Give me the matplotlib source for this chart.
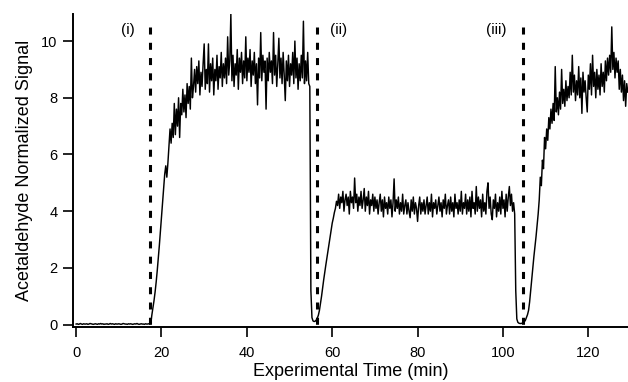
import numpy as np
import matplotlib
matplotlib.use("Agg")
from matplotlib import pyplot as plt

plt.rcParams['font.family'] = ['Liberation Sans', 'DejaVu Sans']

# signal, segment by segment (value lists + first/last time in min)
baseline = [0.02, 0.03, 0.01, 0.02, 0.04, 0.02, 0.01, 0.03, 0.02, 0.02, 0.03, 0.01, 0.02, 0.04,
            0.03, 0.02, 0.01, 0.02, 0.03, 0.02, 0.01, 0.03, 0.02, 0.04, 0.02, 0.03, 0.01, 0.02,
            0.02, 0.03, 0.01, 0.02, 0.04, 0.02, 0.03, 0.02, 0.01, 0.03, 0.02, 0.02, 0.03, 0.02,
            0.01, 0.02, 0.04, 0.03, 0.02, 0.02, 0.01, 0.03, 0.02, 0.03, 0.02, 0.01, 0.02, 0.03,
            0.02, 0.04, 0.02, 0.01, 0.02, 0.03, 0.02, 0.02, 0.01, 0.03, 0.02, 0.02, 0.03, 0.02]
baseline_t = (0.0, 17.25)

rise_i = [0.05, 0.35, 0.6, 0.85, 1.15, 1.5, 1.9, 2.35, 2.8, 3.3, 3.8, 4.25, 4.75, 5.3, 5.6, 5.2,
          5.7, 6.3, 6.9, 6.4, 7.1, 6.6, 7.8, 6.7, 7.6, 7.0, 8.0, 6.6, 7.8, 7.4, 8.3, 7.5, 8.1,
          7.3, 8.5, 7.8, 8.4, 7.6, 9.4, 8.0]
rise_i_t = (17.5, 27.25)

plateau_i = [8.4, 9.0, 8.2, 9.1, 8.5, 9.3, 8.1, 8.9, 8.4, 9.2, 9.9, 8.3, 9.0, 8.5, 9.9, 8.2,
             9.2, 8.6, 9.4, 8.1, 9.0, 8.6, 9.5, 8.3, 9.1, 8.7, 9.6, 8.4, 9.2, 8.7, 9.4, 8.5,
             10.15, 8.8, 9.3, 10.95, 8.6, 9.5, 8.4, 9.2, 8.8, 9.7, 8.3, 9.4, 8.9, 9.6, 8.5, 9.3,
             8.7, 10.15, 8.6, 9.4, 8.9, 9.7, 8.4, 9.3, 8.8, 9.6, 8.5, 9.2, 7.75, 9.4, 8.7, 10.3,
             8.6, 9.5, 8.9, 9.3, 7.6, 9.4, 8.6, 9.6, 8.9, 9.3, 8.5, 10.3, 8.8, 9.5, 8.4, 9.2,
             10.1, 8.7, 9.4, 8.5, 9.6, 8.8, 7.9, 9.3, 8.6, 9.5, 8.4, 9.2, 8.8, 9.6, 8.5, 10.0,
             8.7, 9.4, 8.3, 9.2, 8.6, 9.5, 8.7, 10.7, 8.5, 9.3, 8.6, 9.6, 8.5, 8.4]
plateau_i_t = (27.5, 54.75)

dip_ii = [1.2, 0.25, 0.13, 0.11, 0.12, 0.16, 0.23, 0.33, 0.5, 0.75, 1.0, 1.3, 1.58, 1.85, 2.1,
          2.35, 2.6, 2.85, 3.1, 3.35, 3.58, 3.75, 3.95, 4.1, 4.35]
dip_ii_t = (55.0, 61.0)

plateau_ii = [4.2, 4.6, 4.1, 4.5, 4.3, 4.7, 4.0, 4.4,
              4.6, 4.2, 4.5, 3.9, 4.7, 4.3, 4.5, 4.1,
              5.17, 4.3, 4.6, 4.0, 4.5, 4.2, 4.7, 4.1,
              4.4, 4.8, 4.0, 4.5, 4.2, 4.7, 3.9, 4.4,
              4.2, 4.6, 4.0, 4.5, 4.1, 4.4, 3.9, 4.3,
              4.6, 4.0, 4.4, 3.8, 4.5, 4.1, 4.3, 3.9,
              4.5, 4.1, 4.4, 3.8, 4.3, 5.14, 4.0, 4.4,
              4.1, 4.5, 3.9, 4.3, 4.0, 4.6, 3.9, 4.2,
              4.4, 3.9, 4.3, 4.0, 3.77, 4.4, 4.0, 4.5,
              3.9, 4.3, 4.1, 3.64, 4.2, 4.5, 3.9, 4.3,
              4.0, 4.4, 3.9, 4.2, 4.5, 3.9, 4.3, 4.0,
              4.6, 3.8, 4.3, 4.1, 4.4, 3.9, 4.2, 4.5,
              4.0, 4.3, 3.8, 4.4, 4.1, 4.6, 3.9, 4.2,
              4.4, 3.9, 4.5, 4.0, 4.3, 3.8, 4.6, 4.1,
              4.3, 3.9, 4.4, 4.0, 4.7, 3.9, 4.3, 4.1,
              4.6, 3.9, 4.4, 4.0, 4.5, 3.8, 4.7, 4.1,
              4.3, 3.9, 4.87, 4.0, 4.5, 4.1, 4.4, 3.8,
              4.6, 4.0, 4.3, 3.9, 4.7, 5.0, 4.1, 4.5,
              3.9, 3.7, 4.4, 4.1, 4.6, 3.8, 4.3, 4.0,
              4.5, 3.9, 4.7, 4.1, 4.4, 3.8, 4.6, 4.0,
              4.5, 4.87, 4.2, 4.6, 4.0, 4.3, 3.9]
plateau_ii_t = (61.25, 102.75)

dip_iii = [1.2, 0.2, 0.08, 0.05, 0.04, 0.04, 0.05, 0.08, 0.1, 0.15, 0.25, 0.35, 0.5, 0.8, 1.2,
           1.6, 2.0, 2.4, 2.75, 3.1, 3.5, 3.9, 4.4]
dip_iii_t = (103.0, 108.5)

plateau_iii = [5.2, 4.9, 5.8, 5.5, 6.6, 6.2, 6.9, 6.5, 7.3, 6.9, 7.6, 7.1, 7.8, 7.2, 9.1, 7.5,
               8.0, 7.4, 8.2, 7.6, 9.0, 7.8, 8.3, 7.7, 8.6, 7.9, 8.4, 8.0, 8.9, 8.1, 9.5, 8.2,
               8.8, 7.9, 8.6, 8.1, 9.1, 8.0, 8.7, 7.45, 8.9, 8.2, 8.6, 8.0, 7.5, 8.8, 8.3, 9.2,
               8.1, 9.5, 8.4, 8.9, 8.0, 9.0, 8.3, 8.8, 8.1, 9.2, 8.4, 8.9, 8.2, 9.3, 8.6, 9.4,
               8.8, 9.5, 8.9, 10.5, 9.0, 9.6, 8.7, 9.4, 8.9, 9.3, 8.3, 9.0, 8.2, 8.8, 7.9, 8.6,
               7.7, 8.5, 8.2]
plateau_iii_t = (108.75, 129.25)

# valve switching events
event_x = [17.3, 56.5, 104.7]
event_labels = ["(i)", "(ii)", "(iii)"]
label_x = [12.2, 61.4, 98.4]

segments = [(baseline, baseline_t), (rise_i, rise_i_t), (plateau_i, plateau_i_t),
            (dip_ii, dip_ii_t), (plateau_ii, plateau_ii_t), (dip_iii, dip_iii_t),
            (plateau_iii, plateau_iii_t)]
t = np.concatenate([np.linspace(a, b, len(v)) for v, (a, b) in segments])
signal = np.concatenate([v for v, _ in segments])

fig = plt.figure(figsize=(6.28, 3.82), dpi=100)
ax = fig.add_axes([0.1158, 0.145, 0.8842, 0.818])

ax.plot(t, signal, color="black", lw=1.05)

for i, x in enumerate(event_x):
    y0 = -0.25 if i == 1 else 0.0
    ax.plot([x, x], [10.5, y0], color="black", lw=2.2, ls=(0, (2.3, 2.7)),
            clip_on=False, solid_capstyle="butt", dash_capstyle="butt")
    ax.text(label_x[i], 10.4, event_labels[i], ha="center", va="center", fontsize=11)

ax.set_xlim(-0.8, 129.3)
ax.set_ylim(-0.07, 10.95)
ax.set_xticks([0, 20, 40, 60, 80, 100, 120])
ax.set_yticks([0, 2, 4, 6, 8, 10])
ax.spines["top"].set_visible(False)
ax.spines["right"].set_visible(False)
ax.spines["left"].set_linewidth(1.4)
ax.spines["bottom"].set_linewidth(1.4)
ax.tick_params(axis="both", length=7, width=1.2, labelsize=10.5, direction="out")
ax.tick_params(axis="x", pad=7)
ax.tick_params(axis="y", pad=4)

ax.set_xlabel("Experimental Time (min)", fontsize=13, labelpad=2)
ax.set_ylabel("Acetaldehyde Normalized Signal", fontsize=13, labelpad=6)

fig.savefig("out.png", dpi=100)
